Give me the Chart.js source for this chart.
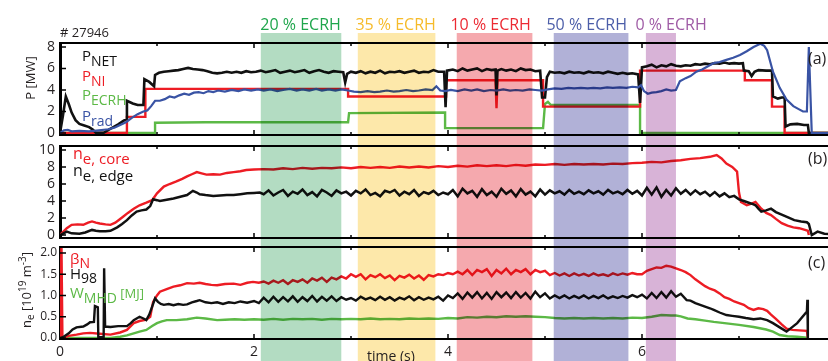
<!DOCTYPE html>
<html>
<head>
<meta charset="utf-8">
<script src="https://cdn.jsdelivr.net/npm/chart.js@4.4.1/dist/chart.umd.min.js"></script>
<style>
  body { margin: 0; background: #fff; }
  #wrap { position: relative; width: 828px; height: 361px; overflow: hidden; }
  canvas { position: absolute; left: 0; }
</style>
</head>
<body>
<div id="wrap">
  <canvas id="pa" width="850" height="141" style="top:0"></canvas>
  <canvas id="pb" width="850" height="101" style="top:141px"></canvas>
  <canvas id="pc" width="850" height="119" style="top:242px"></canvas>
</div>
<script>
// shot #27946, time in s
const xTicks = [0, 2, 4, 6];
const yTicksA = [0, 2, 4, 6, 8];
const yTicksB = [0, 2, 4, 6, 8, 10];
const yTicksC = [0, 0.5, 1, 1.5, 2];

// ECRH fraction windows
const bandFrom = [2.07, 3.07, 4.09, 5.09, 6.04];
const bandTo = [2.90, 3.87, 4.87, 5.86, 6.35];
const bandLabelT = [2.48, 3.46, 4.44, 5.43, 6.30];
const bandLabel = ['20 % ECRH', '35 % ECRH', '10 % ECRH', '50 % ECRH', '0 % ECRH'];
const bandFill = ['#b3dcc2', '#fde8aa', '#f5a9ae', '#b1b1d7', '#d8b3d7'];
const bandText = ['#1fa64c', '#f6bb2a', '#ec2a33', '#4c5ea9', '#9f5ba5'];

// panel (a) powers [MW]
const pNet = [[0,0],[0.03,1.6],[0.06,3.4],[0.09,2.7],[0.12,1.9],[0.16,1.2],[0.2,0.85],[0.25,0.7],[0.3,0.55],[0.34,0.3],[0.37,0.02],[0.45,0.02],[0.5,0.3],[0.55,0.55],[0.6,0.8],[0.65,1.1],[0.685,1.3],
  [0.69,3.0],[0.75,2.75],[0.8,2.6],[0.86,2.6],[0.87,5.0],[0.92,4.75],[0.97,4.35],
  [0.98,5.4],[1.02,5.6],[1.07,5.7],[1.12,5.75],[1.17,5.8],[1.22,5.85],[1.27,5.95],[1.32,6.05],[1.37,5.95],[1.42,5.9],[1.47,5.85],[1.52,5.75],[1.57,5.6],[1.62,5.55],[1.67,5.6],[1.72,5.7],[1.77,5.6],[1.82,5.7],[1.87,5.6],[1.92,5.75],[1.97,5.65],
  [2.02,5.7],[2.07,5.8],[2.12,5.65],[2.17,5.75],[2.22,5.85],[2.27,5.6],[2.32,5.7],[2.37,5.8],[2.42,5.65],[2.47,5.75],[2.52,5.85],[2.57,5.6],[2.62,5.75],[2.67,5.85],[2.72,5.7],[2.77,5.6],[2.82,5.75],[2.87,5.7],[2.92,5.65],[2.94,4.7],[2.96,5.5],
  [3.0,5.7],[3.05,5.6],[3.1,5.75],[3.15,5.55],[3.2,5.7],[3.25,5.6],[3.3,5.8],[3.35,5.55],[3.4,5.7],[3.45,5.65],[3.5,5.75],[3.55,5.6],[3.6,5.7],[3.65,5.8],[3.7,5.6],[3.75,5.7],[3.8,5.65],[3.85,5.85],[3.9,5.7],[3.96,5.7],[3.975,2.4],[3.99,5.8],
  [4.05,5.9],[4.1,5.75],[4.15,6.0],[4.2,5.8],[4.25,5.9],[4.3,6.0],[4.35,5.75],[4.4,5.95],[4.45,5.85],[4.49,5.9],[4.5,3.5],[4.51,5.8],[4.55,5.95],[4.6,5.8],[4.65,5.9],[4.7,5.75],[4.75,6.0],[4.8,5.85],[4.85,5.9],[4.9,5.75],[4.95,5.8],[4.97,3.3],[5.0,3.3],[5.02,5.2],
  [5.05,5.7],[5.1,5.6],[5.15,5.65],[5.2,5.55],[5.25,5.7],[5.3,5.6],[5.35,5.65],[5.4,5.55],[5.45,5.7],[5.5,5.6],[5.55,5.65],[5.6,5.55],[5.65,5.7],[5.7,5.6],[5.75,5.5],[5.8,5.6],[5.85,5.5],[5.9,5.55],[5.96,5.45],[5.98,2.8],
  [6.0,6.1],[6.05,6.2],[6.1,6.35],[6.15,6.1],[6.2,6.3],[6.25,6.2],[6.3,6.4],[6.35,6.25],[6.4,6.2],[6.45,6.3],[6.5,6.25],[6.55,6.4],[6.6,6.35],[6.65,6.45],[6.7,6.4],[6.75,6.5],[6.8,6.45],[6.85,6.55],[6.9,6.45],[6.95,6.5],[7.0,6.45],[7.04,6.5],
  [7.05,5.8],[7.1,5.75],[7.13,5.3],[7.16,5.7],[7.2,5.85],[7.28,5.8],[7.34,5.8],[7.35,3.4],[7.4,3.2],[7.44,3.3],[7.47,3.3],[7.48,0.6],[7.53,0.8],[7.6,0.85],[7.67,0.75],[7.71,0.75],[7.72,0],[8,0]];
const pNi = [[0,0],[0.69,0],[0.69,1.5],[0.88,1.5],[0.88,4.1],[2.97,4.1],[2.97,3.4],[3.98,3.4],[3.98,4.9],[4.49,4.9],[4.5,2.3],[4.51,4.9],[4.98,4.9],[4.98,2.45],[5.98,2.45],[5.98,5.8],[7.06,5.8],[7.06,4.9],[7.34,4.9],[7.34,2.45],[7.47,2.45],[7.47,0],[8,0]];
const pEcrh = [[0,0],[0.98,0],[0.98,0.95],[1.5,1.0],[2.97,1.0],[2.98,1.85],[3.97,1.9],[3.97,0.45],[4.98,0.45],[5.0,2.7],[5.03,2.9],[5.06,2.6],[5.98,2.6],[5.98,0],[8,0]];
const pRad = [[0,0],[0.04,0.25],[0.08,0.3],[0.12,0.15],[0.2,0.2],[0.3,0.15],[0.4,0.25],[0.5,0.35],[0.56,0.5],[0.62,0.75],[0.68,1.0],[0.74,1.4],[0.8,1.75],[0.86,2.0],[0.9,2.1],[0.94,2.5],[0.98,3.0],
  [1.03,3.0],[1.08,3.15],[1.13,3.4],[1.18,3.3],[1.23,3.5],[1.28,3.65],[1.33,3.55],[1.38,3.75],[1.43,3.8],[1.48,3.7],[1.53,3.9],[1.58,3.8],[1.63,3.95],[1.7,3.85],[1.77,4.0],[1.84,3.9],[1.9,4.05],[1.97,3.95],
  [2.04,4.05],[2.1,3.95],[2.17,4.05],[2.24,3.9],[2.3,4.0],[2.37,4.1],[2.44,3.95],[2.5,4.05],[2.57,3.95],[2.64,4.1],[2.7,3.95],[2.77,4.05],[2.84,3.95],[2.9,4.05],[2.97,3.95],
  [3.03,3.85],[3.1,3.8],[3.17,3.9],[3.24,3.8],[3.3,3.85],[3.37,3.95],[3.44,3.85],[3.5,3.9],[3.57,4.0],[3.64,3.9],[3.7,3.95],[3.77,4.05],[3.84,4.0],[3.88,4.35],[3.92,3.95],[3.97,3.9],
  [4.03,4.0],[4.1,3.9],[4.17,4.05],[4.24,3.95],[4.3,4.05],[4.37,3.9],[4.44,4.0],[4.5,3.95],[4.57,4.05],[4.64,3.95],[4.7,4.0],[4.77,3.95],[4.84,4.05],[4.9,4.0],[4.97,3.95],
  [5.03,4.05],[5.1,4.15],[5.17,4.1],[5.24,4.2],[5.3,4.15],[5.37,4.2],[5.44,4.15],[5.5,4.2],[5.57,4.15],[5.64,4.25],[5.7,4.2],[5.77,4.25],[5.84,4.2],[5.9,4.3],[5.96,4.25],[5.99,4.45],
  [6.02,3.9],[6.06,3.65],[6.1,3.75],[6.15,3.8],[6.2,3.9],[6.25,4.05],[6.3,3.95],[6.35,4.0],[6.39,4.8],[6.45,5.1],[6.5,5.3],[6.56,5.7],[6.62,5.9],[6.68,6.2],[6.74,6.5],[6.8,6.6],[6.87,6.8],[6.94,7.0],[7.01,7.25],[7.08,7.6],[7.15,8.0],[7.22,8.3],[7.26,8.1],[7.29,7.7],[7.35,5.7],[7.42,4.2],[7.49,3.1],[7.56,2.5],[7.62,2.2],[7.66,2.0],[7.7,2.0],[7.72,8.0],[7.75,0],[8,0]];

// panel (b) densities [10^19 m^-3]
const neCore = [[0,0],[0.07,0.8],[0.12,1.2],[0.18,1.25],[0.24,1.2],[0.29,1.45],[0.33,1.6],[0.37,1.45],[0.41,1.35],[0.47,1.25],[0.52,1.2],[0.57,1.45],[0.61,1.8],[0.65,2.15],[0.7,2.6],[0.76,3.1],[0.82,3.5],[0.89,3.8],[0.95,4.1],
  [1.0,4.9],[1.07,5.7],[1.13,6.0],[1.2,6.3],[1.26,6.6],[1.31,6.9],[1.36,7.15],[1.41,7.4],[1.46,7.25],[1.51,7.1],[1.58,7.15],[1.65,7.1],[1.72,7.3],[1.79,7.4],[1.86,7.5],[1.92,7.65],
  [2.0,7.7],[2.1,7.75],[2.2,7.7],[2.3,7.85],[2.4,7.75],[2.5,7.9],[2.6,7.8],[2.7,7.9],[2.8,7.85],[2.9,7.95],[3.0,7.85],[3.1,8.0],[3.2,7.9],[3.3,8.0],[3.4,7.9],[3.5,8.05],[3.6,7.95],[3.7,8.05],[3.8,7.95],[3.9,8.1],
  [4.0,8.0],[4.1,8.15],[4.2,8.05],[4.3,8.2],[4.4,8.1],[4.5,8.2],[4.6,8.1],[4.7,8.25],[4.8,8.15],[4.9,8.3],[5.0,8.25],[5.1,8.35],[5.2,8.25],[5.3,8.35],[5.4,8.3],[5.5,8.35],[5.6,8.3],[5.7,8.4],[5.8,8.35],[5.9,8.45],
  [6.0,8.5],[6.1,8.6],[6.2,8.55],[6.3,8.7],[6.4,8.8],[6.5,8.95],[6.6,9.05],[6.7,9.2],[6.77,9.4],[6.82,9.0],[6.87,8.4],[6.93,8.0],[6.98,7.45],[7.0,5.0],[7.02,3.9],[7.08,3.5],[7.13,3.7],[7.17,3.9],[7.23,3.1],[7.28,2.6],[7.33,2.35],[7.38,1.9],[7.44,1.4],[7.5,1.1],[7.56,0.9],[7.62,0.8],[7.68,0.6],[7.71,0.5],[7.72,0]];
const neEdge = [[0,0],[0.07,0.4],[0.12,0.2],[0.2,0.15],[0.26,0.3],[0.33,0.6],[0.37,0.5],[0.41,0.45],[0.47,0.45],[0.52,0.5],[0.59,0.9],[0.64,1.3],[0.69,1.75],[0.74,2.3],[0.79,2.75],[0.84,2.9],[0.89,3.0],[0.93,3.4],[0.96,4.2],
  [1.0,4.1],[1.03,4.0],[1.1,4.15],[1.17,4.3],[1.24,4.5],[1.31,4.7],[1.37,5.2],[1.41,5.0],[1.44,4.8],[1.5,4.7],[1.58,4.6],[1.65,4.65],[1.72,4.7],[1.79,4.7],[1.86,4.8],[1.93,4.9],[2.0,4.95],[2.06,5.0],
  [2.1,4.8],[2.15,5.25],[2.2,4.65],[2.25,5.0],[2.3,5.3],[2.35,4.6],[2.4,5.1],[2.45,4.85],[2.5,5.35],[2.55,4.7],[2.6,5.05],[2.65,4.55],[2.7,5.3],[2.75,5.0],[2.8,4.6],[2.85,5.25],[2.9,4.9],[2.95,5.1],
  [3.0,4.65],[3.05,5.2],[3.1,4.9],[3.15,5.35],[3.2,4.7],[3.25,4.95],[3.3,4.55],[3.35,5.2],[3.4,5.0],[3.45,5.3],[3.5,4.65],[3.55,5.1],[3.6,4.8],[3.65,5.3],[3.7,4.6],[3.75,5.05],[3.8,4.85],[3.85,5.2],[3.9,4.7],[3.95,5.0],
  [4.0,4.8],[4.05,5.3],[4.1,4.55],[4.15,5.45],[4.2,4.9],[4.25,5.2],[4.3,4.5],[4.35,5.4],[4.4,4.7],[4.45,5.1],[4.5,4.5],[4.55,5.45],[4.6,4.85],[4.65,5.25],[4.7,4.55],[4.75,5.4],[4.8,4.75],[4.85,5.1],[4.9,4.55],[4.95,5.35],
  [5.0,4.75],[5.05,5.25],[5.1,4.9],[5.15,5.15],[5.2,4.75],[5.25,5.3],[5.3,4.85],[5.35,5.1],[5.4,4.8],[5.45,5.25],[5.5,4.9],[5.55,5.15],[5.6,4.75],[5.65,5.3],[5.7,4.9],[5.75,5.1],[5.8,4.8],[5.85,5.3],[5.9,4.85],[5.95,5.2],
  [6.0,4.65],[6.05,5.55],[6.1,4.75],[6.15,5.6],[6.2,4.5],[6.25,5.3],[6.3,4.65],[6.35,5.5],[6.4,4.85],[6.45,5.3],[6.5,4.75],[6.55,5.25],[6.6,4.8],[6.65,5.1],[6.7,4.6],[6.75,5.05],[6.8,4.55],[6.85,4.9],[6.9,4.45],[6.95,4.6],
  [7.0,4.2],[7.05,4.0],[7.1,3.8],[7.15,3.6],[7.17,3.5],[7.2,3.1],[7.23,2.75],[7.28,2.9],[7.33,3.1],[7.38,2.7],[7.44,2.4],[7.5,2.1],[7.57,1.75],[7.64,1.6],[7.7,1.5],[7.72,1.3],[7.75,0],[7.81,0.4],[7.88,0.15],[8,0.1]];

// panel (c) betaN, H98, W_MHD [MJ]
const betaN = [[0,0],[0.015,2.2],[0.025,0],[0.09,0.05],[0.17,0.08],[0.24,0.11],[0.31,0.12],[0.41,0.1],[0.52,0.08],[0.62,0.13],[0.69,0.19],[0.76,0.35],[0.82,0.4],[0.89,0.43],[0.93,0.5],[0.96,0.85],
  [1.0,1.0],[1.03,1.09],[1.1,1.15],[1.17,1.21],[1.24,1.24],[1.31,1.29],[1.38,1.28],[1.44,1.3],[1.5,1.27],[1.56,1.25],[1.62,1.24],[1.7,1.27],[1.79,1.28],[1.86,1.25],[1.93,1.3],[1.99,1.32],
  [2.05,1.3],[2.1,1.33],[2.15,1.28],[2.2,1.35],[2.25,1.3],[2.3,1.36],[2.35,1.27],[2.4,1.36],[2.45,1.32],[2.5,1.38],[2.55,1.3],[2.6,1.4],[2.65,1.35],[2.7,1.42],[2.75,1.32],[2.8,1.42],[2.85,1.38],[2.9,1.45],[2.95,1.4],
  [3.0,1.5],[3.05,1.44],[3.1,1.5],[3.15,1.38],[3.2,1.48],[3.25,1.43],[3.3,1.5],[3.35,1.41],[3.4,1.47],[3.45,1.36],[3.5,1.46],[3.55,1.42],[3.6,1.49],[3.65,1.4],[3.7,1.47],[3.75,1.37],[3.8,1.48],[3.85,1.45],[3.9,1.5],[3.95,1.48],
  [4.0,1.53],[4.05,1.5],[4.1,1.56],[4.15,1.5],[4.2,1.6],[4.25,1.48],[4.3,1.6],[4.35,1.55],[4.4,1.62],[4.45,1.46],[4.5,1.6],[4.55,1.52],[4.6,1.63],[4.65,1.5],[4.7,1.6],[4.75,1.55],[4.8,1.62],[4.85,1.5],[4.9,1.6],[4.95,1.55],
  [5.0,1.58],[5.05,1.48],[5.1,1.53],[5.15,1.47],[5.2,1.52],[5.25,1.46],[5.3,1.52],[5.35,1.47],[5.4,1.51],[5.45,1.46],[5.5,1.52],[5.55,1.47],[5.6,1.5],[5.65,1.46],[5.7,1.52],[5.75,1.48],[5.8,1.52],[5.85,1.49],[5.9,1.53],[5.95,1.5],
  [6.0,1.5],[6.05,1.58],[6.1,1.62],[6.15,1.66],[6.2,1.65],[6.25,1.7],[6.3,1.68],[6.35,1.64],[6.4,1.6],[6.45,1.55],[6.5,1.48],[6.55,1.38],[6.6,1.3],[6.65,1.22],[6.7,1.16],[6.75,1.12],[6.8,1.05],[6.85,0.96],[6.9,0.92],[6.95,0.86],
  [7.0,0.82],[7.05,0.78],[7.1,0.7],[7.15,0.66],[7.2,0.7],[7.25,0.68],[7.29,0.64],[7.33,0.55],[7.38,0.45],[7.44,0.32],[7.49,0.22],[7.55,0.19],[7.62,0.18],[7.7,0.17],[7.71,0]];
const h98 = [[0,0],[0.03,0.02],[0.09,0.11],[0.13,0.2],[0.17,0.25],[0.24,0.27],[0.28,0.32],[0.31,0.37],[0.35,0.38],[0.36,0.75],[0.39,0.72],[0.395,0.02],[0.45,0.02],[0.455,1.64],[0.465,0.27],[0.52,0.26],[0.6,0.28],[0.69,0.28],[0.73,0.35],[0.76,0.42],[0.82,0.5],[0.86,0.46],[0.89,0.42],[0.92,0.55],[0.95,0.74],[0.98,0.93],
  [1.01,0.85],[1.04,0.8],[1.07,0.78],[1.12,0.8],[1.17,0.77],[1.22,0.8],[1.27,0.78],[1.31,0.79],[1.36,0.84],[1.41,0.87],[1.44,0.89],[1.5,0.84],[1.56,0.82],[1.62,0.84],[1.68,0.8],[1.74,0.84],[1.8,0.82],[1.86,0.86],[1.93,0.83],[2.0,0.87],
  [2.05,0.82],[2.1,0.95],[2.15,0.84],[2.2,0.97],[2.25,0.85],[2.3,0.96],[2.35,0.86],[2.4,0.98],[2.45,0.85],[2.5,0.96],[2.55,0.87],[2.6,0.99],[2.65,0.86],[2.7,0.97],[2.75,0.88],[2.8,0.98],[2.85,0.87],[2.9,0.96],[2.95,0.9],
  [3.0,0.94],[3.05,0.88],[3.1,0.97],[3.15,0.91],[3.2,0.95],[3.25,0.89],[3.3,0.97],[3.35,0.9],[3.4,0.96],[3.45,0.88],[3.5,0.95],[3.55,0.91],[3.6,0.98],[3.65,0.89],[3.7,0.96],[3.75,0.9],[3.8,0.95],[3.85,0.91],[3.9,0.97],[3.95,0.88],
  [4.0,1.0],[4.05,0.94],[4.1,1.05],[4.15,0.92],[4.2,1.07],[4.25,0.95],[4.3,1.08],[4.35,0.93],[4.4,1.06],[4.45,0.92],[4.5,1.08],[4.55,0.96],[4.6,1.07],[4.65,0.94],[4.7,1.08],[4.75,0.95],[4.8,1.06],[4.85,0.93],[4.9,1.09],[4.95,0.96],
  [5.0,1.05],[5.05,0.93],[5.1,1.0],[5.15,0.94],[5.2,1.0],[5.25,0.93],[5.3,0.99],[5.35,0.94],[5.4,1.0],[5.45,0.93],[5.5,0.99],[5.55,0.94],[5.6,1.0],[5.65,0.93],[5.7,0.98],[5.75,0.94],[5.8,0.99],[5.85,0.95],[5.9,1.01],[5.95,0.96],
  [6.0,1.02],[6.05,0.93],[6.1,1.06],[6.15,0.94],[6.2,1.08],[6.25,0.95],[6.3,1.1],[6.35,0.97],[6.4,1.04],[6.46,0.89],[6.5,0.88],[6.55,0.82],[6.6,0.78],[6.65,0.74],[6.7,0.7],[6.74,0.66],[6.8,0.6],[6.87,0.54],[6.93,0.52],
  [7.0,0.5],[7.07,0.47],[7.15,0.44],[7.22,0.46],[7.29,0.42],[7.35,0.35],[7.42,0.25],[7.49,0.15],[7.6,0.35],[7.7,0.62],[7.705,0.9],[7.71,0]];
const wMhd = [[0,0],[0.52,0.0],[0.62,0.03],[0.69,0.06],[0.76,0.11],[0.82,0.15],[0.89,0.19],[0.95,0.28],[1.0,0.35],[1.05,0.39],[1.1,0.42],[1.2,0.42],[1.31,0.44],[1.41,0.48],[1.5,0.46],[1.62,0.42],[1.7,0.43],[1.8,0.44],[1.9,0.43],
  [2.0,0.44],[2.1,0.43],[2.2,0.45],[2.3,0.43],[2.4,0.45],[2.5,0.44],[2.6,0.45],[2.7,0.43],[2.8,0.45],[2.9,0.44],[3.0,0.45],[3.1,0.44],[3.2,0.46],[3.3,0.44],[3.4,0.45],[3.5,0.44],[3.6,0.46],[3.7,0.45],[3.8,0.46],[3.9,0.45],
  [4.0,0.47],[4.1,0.46],[4.2,0.49],[4.3,0.48],[4.4,0.5],[4.5,0.49],[4.6,0.51],[4.7,0.5],[4.8,0.51],[4.9,0.5],[5.0,0.49],[5.1,0.47],[5.2,0.46],[5.3,0.47],[5.4,0.46],[5.5,0.47],[5.6,0.46],[5.7,0.47],[5.8,0.46],[5.9,0.48],
  [6.0,0.47],[6.1,0.5],[6.2,0.54],[6.3,0.53],[6.35,0.53],[6.4,0.51],[6.47,0.46],[6.55,0.44],[6.65,0.41],[6.74,0.38],[6.85,0.35],[7.0,0.31],[7.15,0.26],[7.28,0.2],[7.35,0.15],[7.42,0.07],[7.5,0.04],[7.6,0.03],[7.7,0.01]];

const FONT = "'Open Sans', sans-serif";
const BLACK = '#111111', RED = '#ed1c24', GREEN = '#5cb946', BLUE = '#3953a4';
Chart.defaults.font.family = FONT;
Chart.defaults.color = '#231f20';

function line(data, color, width) {
  return { data: data, borderColor: color, borderWidth: width || 2.4, pointRadius: 0, tension: 0, fill: false };
}

// text runs: [text, size, color, dy]
function runs(ctx, x, y, parts) {
  parts.forEach(p => {
    ctx.font = p[1] + 'px ' + FONT;
    ctx.fillStyle = p[2];
    ctx.fillText(p[0], x, y + (p[3] || 0));
    x += ctx.measureText(p[0]).width;
  });
}

function vertRuns(ctx, cx, cy, parts) {
  let w = 0;
  parts.forEach(p => { ctx.font = p[1] + 'px ' + FONT; w += ctx.measureText(p[0]).width; });
  ctx.save();
  ctx.translate(cx, cy);
  ctx.rotate(-Math.PI / 2);
  runs(ctx, -w / 2, 0, parts);
  ctx.restore();
}

function bands(top) {
  return {
    id: 'bands',
    afterDatasetsDraw(chart) {
      const ctx = chart.ctx, x = chart.scales.x;
      ctx.save();
      ctx.globalCompositeOperation = 'multiply';
      bandFrom.forEach((t0, i) => {
        const x0 = x.getPixelForValue(t0), x1 = x.getPixelForValue(bandTo[i]);
        ctx.fillStyle = bandFill[i];
        ctx.fillRect(x0, top, x1 - x0, chart.height - top);
      });
      ctx.restore();
    }
  };
}

const frame = {
  id: 'frame',
  afterDraw(chart) {
    const ctx = chart.ctx, a = chart.chartArea, x = chart.scales.x, y = chart.scales.y;
    ctx.save();
    ctx.strokeStyle = '#000';
    ctx.lineWidth = 2;
    ctx.beginPath();
    ctx.moveTo(a.left, a.top); ctx.lineTo(chart.width, a.top);
    ctx.moveTo(a.left, a.bottom); ctx.lineTo(chart.width, a.bottom);
    ctx.stroke();
    ctx.lineWidth = 1.5;
    ctx.beginPath();
    [1, 2, 3, 4, 5, 6, 7].forEach(t => {
      const px = x.getPixelForValue(t), len = t % 2 ? 3 : 5;
      ctx.moveTo(px, a.top); ctx.lineTo(px, a.top + len);
      ctx.moveTo(px, a.bottom); ctx.lineTo(px, a.bottom - len);
    });
    y.ticks.forEach(t => {
      const py = y.getPixelForValue(t.value);
      ctx.moveTo(a.left, py); ctx.lineTo(a.left + 6, py);
    });
    ctx.stroke();
    ctx.restore();
  }
};

function makeChart(id, pad, yMin, yMax, yTicks, yFont, yPad, fmt, datasets, showX, bandTop, notes) {
  return new Chart(document.getElementById(id), {
    type: 'line',
    data: { datasets: datasets },
    options: {
      responsive: false,
      animation: false,
      devicePixelRatio: 1,
      layout: { padding: { top: pad[0], bottom: pad[1], left: 0, right: 14 } },
      plugins: { legend: { display: false }, tooltip: { enabled: false } },
      scales: {
        x: {
          type: 'linear', min: 0, max: 8, display: showX,
          grid: { display: false, drawTicks: false },
          border: { display: false },
          ticks: { font: { size: 14 }, padding: 5, maxRotation: 0, autoSkip: false, color: '#231f20' },
          afterBuildTicks: s => { s.ticks = xTicks.map(v => ({ value: v })); },
          afterFit: s => { s.height = showX ? 22 : 0; }
        },
        y: {
          min: yMin, max: yMax,
          grid: { display: false, drawTicks: false },
          border: { display: true, width: 3, color: '#000' },
          ticks: { font: { size: yFont }, padding: yPad, callback: fmt, autoSkip: false },
          afterBuildTicks: s => { s.ticks = yTicks.map(v => ({ value: v })); },
          afterFit: s => { s.width = 60; s.paddingTop = 0; s.paddingBottom = 0; }
        }
      }
    },
    plugins: [bands(bandTop), frame, { id: 'notes', afterDraw: c => notes(c.ctx, c) }]
  });
}

makeChart('pa', [43, 6], -0.186, 8.37, yTicksA, 14, 5, v => v,
  [line(pRad, BLUE, 2.2), line(pNet, BLACK, 2.6), line(pNi, RED), line(pEcrh, GREEN)],
  false, 33, (ctx, c) => {
    ctx.save();
    ctx.textBaseline = 'alphabetic';
    runs(ctx, 60, 37, [['# 27946', 13, '#231f20']]);
    ctx.textAlign = 'center';
    bandLabel.forEach((s, i) => {
      ctx.font = '16px ' + FONT;
      ctx.fillStyle = bandText[i];
      ctx.fillText(s, c.scales.x.getPixelForValue(bandLabelT[i]), 30);
    });
    ctx.textAlign = 'left';
    runs(ctx, 82, 61, [['P', 15, BLACK], ['NET', 14, BLACK, 5]]);
    runs(ctx, 82, 81, [['P', 15, RED], ['NI', 14, RED, 5]]);
    runs(ctx, 82, 100, [['P', 15, GREEN], ['ECRH', 14, GREEN, 5]]);
    runs(ctx, 82, 121, [['P', 15, BLUE], ['rad', 14, BLUE, 5]]);
    runs(ctx, 808, 64, [['(a)', 16, '#231f20']]);
    vertRuns(ctx, 35, 78, [['P [MW]', 13, '#231f20']]);
    ctx.restore();
  });

makeChart('pb', [5, 4], -0.35, 10.47, yTicksB, 14, 5, v => v,
  [line(neEdge, BLACK, 2.5), line(neCore, RED)],
  false, 0, (ctx) => {
    ctx.save();
    runs(ctx, 73, 18, [['n', 16, RED], ['e, core', 15, RED, 5]]);
    runs(ctx, 73, 35, [['n', 16, BLACK], ['e, edge', 15, BLACK, 5]]);
    runs(ctx, 808, 23, [['(b)', 16, '#231f20']]);
    ctx.restore();
  });

makeChart('pc', [5, 0], -0.0235, 2.141, yTicksC, 12, 3, v => v.toFixed(1),
  [line(h98, BLACK), line(betaN, RED), line(wMhd, GREEN)],
  true, 0, (ctx, c) => {
    ctx.save();
    runs(ctx, 70, 22, [['\u03b2', 15, RED], ['N', 14, RED, 4]]);
    runs(ctx, 70, 37, [['H', 15, BLACK], ['98', 14, BLACK, 4]]);
    runs(ctx, 70, 56, [['W', 15, GREEN], ['MHD', 14, GREEN, 5], [' [MJ]', 13, GREEN]]);
    runs(ctx, 808, 26, [['(c)', 16, '#231f20']]);
    runs(ctx, 367, 119, [['time (s)', 14, '#231f20']]);
    vertRuns(ctx, 31, 48, [['n', 13, '#231f20'], ['e', 10, '#231f20', 3], [' [10', 13, '#231f20'],
      ['19', 10, '#231f20', -5], [' m', 13, '#231f20'], ['-3', 10, '#231f20', -5], [']', 13, '#231f20']]);
    ctx.restore();
  });
</script>
</body>
</html>
